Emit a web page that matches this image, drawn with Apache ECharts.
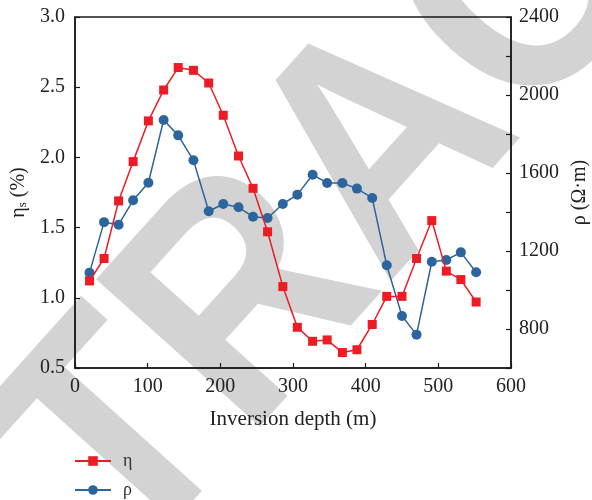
<!DOCTYPE html>
<html>
<head>
<meta charset="utf-8">
<script src="https://cdn.jsdelivr.net/npm/echarts@6/dist/echarts.min.js"></script>
<style>
html,body{margin:0;padding:0;background:#fff;}
#chart{width:592px;height:500px;}
</style>
</head>
<body>
<div id="chart"></div>
<script>
// Inversion depth (m)
const depth = [20, 40, 60, 80, 101, 122, 142, 163, 184, 204, 225, 245, 265, 286, 306, 327, 347, 368, 388, 409, 429, 450, 470, 491, 511, 531, 552];
// eta_s (%)
const eta = [1.12, 1.28, 1.69, 1.97, 2.26, 2.48, 2.64, 2.62, 2.53, 2.30, 2.01, 1.78, 1.47, 1.08, 0.79, 0.69, 0.70, 0.61, 0.63, 0.81, 1.01, 1.01, 1.28, 1.55, 1.19, 1.13, 0.97];
// rho (Ohm m)
const rho = [1089, 1348, 1335, 1460, 1550, 1872, 1793, 1665, 1404, 1441, 1424, 1376, 1369, 1441, 1489, 1591, 1549, 1549, 1520, 1472, 1127, 867, 771, 1145, 1154, 1193, 1091];
const rhoLabels = [800, 1200, 1600, 2000, 2400];

const serif = '"Liberation Serif", "DejaVu Serif", serif';
const red = '#ed1c24';
const blue = '#2c659e';
const axisColor = '#1a1a1a';

const chart = echarts.init(document.getElementById('chart'), null, {renderer: 'canvas'});
chart.setOption({
  backgroundColor: '#fff',
  animation: false,
  graphic: [{
    type: 'text', x: 390, y: 150, rotation: 48 * Math.PI / 180, scaleX: 0.9, z: -100, silent: true,
    style: {text: 'RETRACTED', font: 'bold 320px "Liberation Sans"', fill: '#d3d3d3', align: 'center', verticalAlign: 'middle'}
  }],
  grid: {left: 75, right: 81, top: 17, bottom: 132, outerBoundsMode: 'none', containLabel: false,
    show: true, borderColor: axisColor, borderWidth: 1.5, backgroundColor: 'transparent'},
  legend: {
    orient: 'vertical', left: 74, top: 451, height: 120, padding: 0, itemWidth: 36, itemHeight: 12, itemGap: 9,
    textStyle: {fontFamily: serif, fontSize: 18, lineHeight: 20, color: '#333', padding: [0, 0, 0, 7]},
    data: ['η', 'ρ']
  },
  xAxis: {
    type: 'value', min: 0, max: 600, interval: 100,
    name: 'Inversion depth (m)', nameLocation: 'middle', nameGap: 41,
    nameTextStyle: {fontFamily: serif, fontSize: 21, color: '#222'},
    axisLine: {lineStyle: {color: axisColor, width: 1.5}},
    axisTick: {inside: true, length: 5, lineStyle: {color: axisColor, width: 1.2}},
    axisLabel: {fontFamily: serif, fontSize: 20, color: '#222', margin: 9},
    splitLine: {show: false}
  },
  yAxis: [{
    type: 'value', min: 0.5, max: 3.0, interval: 0.5, position: 'left',
    name: '{a|η}{s|s}{a| (%)}', nameLocation: 'middle', nameGap: 40, nameRotate: 90,
    nameTextStyle: {fontFamily: serif, fontSize: 20, color: '#222', rich: {
      a: {fontFamily: serif, fontSize: 20, color: '#222'},
      s: {fontFamily: serif, fontSize: 13, color: '#222', verticalAlign: 'bottom', padding: [8, 0, 0, 0]}
    }},
    axisLine: {show: true, lineStyle: {color: axisColor, width: 1.5}},
    axisTick: {show: true, inside: true, length: 5, lineStyle: {color: axisColor, width: 1.2}},
    axisLabel: {fontFamily: serif, fontSize: 20, color: '#222', margin: 10, formatter: v => v.toFixed(1)},
    splitLine: {show: false}
  }, {
    type: 'value', min: 600, max: 2400, interval: 200, position: 'right',
    name: 'ρ (Ω·m)', nameLocation: 'middle', nameGap: 59, nameRotate: 90,
    nameTextStyle: {fontFamily: serif, fontSize: 20, color: '#222'},
    axisLine: {show: true, lineStyle: {color: axisColor, width: 1.5}},
    axisTick: {show: true, inside: true, length: 5, lineStyle: {color: axisColor, width: 1.2}},
    axisLabel: {fontFamily: serif, fontSize: 20, color: '#222', margin: 8,
      formatter: v => rhoLabels.indexOf(v) >= 0 ? String(v) : ''},
    splitLine: {show: false}
  }],
  series: [{
    name: 'η', type: 'line', yAxisIndex: 0, z: 4,
    data: depth.map((d, i) => [d, eta[i]]),
    symbol: 'rect', symbolSize: 9,
    lineStyle: {color: red, width: 1.5}, itemStyle: {color: red}
  }, {
    name: 'ρ', type: 'line', yAxisIndex: 1, z: 3,
    data: depth.map((d, i) => [d, rho[i]]),
    symbol: 'circle', symbolSize: 10,
    lineStyle: {color: blue, width: 1.5}, itemStyle: {color: blue}
  }]
});
</script>
</body>
</html>
